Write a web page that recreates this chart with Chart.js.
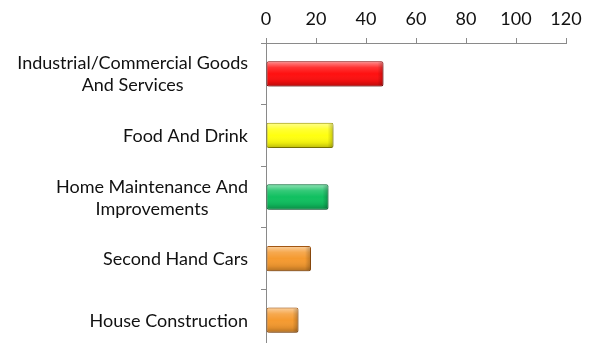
<!DOCTYPE html>
<html>
<head>
<meta charset="utf-8">
<script src="https://cdn.jsdelivr.net/npm/chart.js@4"></script>
<style>
  html, body { margin: 0; padding: 0; background: #fff; overflow: hidden; }
  #wrap { width: 590px; height: 351px; }
</style>
</head>
<body>
<div id="wrap"><canvas id="chart"></canvas></div>
<script>
// Categories, top to bottom
const categories = [
  ['Industrial/Commercial Goods', 'And Services'],
  'Food And Drink',
  ['Home Maintenance And', 'Improvements'],
  'Second Hand Cars',
  'House Construction'
];
const values = [47, 27, 25, 18, 13];
const xTicks = [0, 20, 40, 60, 80, 100, 120];

const fills   = ['#ff1010', '#ffff10', '#10c060', '#f59a30', '#f59a30'];
const borders = ['#900000', '#a09800', '#087038', '#a85810', '#a85810'];

const FONT_SIZE = 18;
const AXIS = '#8a8a8a';

// soft drop shadow under the bars
const shadow = {
  id: 'shadow',
  beforeDatasetsDraw(chart) {
    const ctx = chart.ctx;
    ctx.save();
    ctx.shadowColor = 'rgba(0,0,0,0.35)';
    ctx.shadowBlur = 4;
    ctx.shadowOffsetX = 1;
    ctx.shadowOffsetY = 2;
  },
  afterDatasetsDraw(chart) {
    chart.ctx.restore();
  }
};

// glossy bevel on top of each bar
const bevel = {
  id: 'bevel',
  afterDatasetsDraw(chart) {
    const ctx = chart.ctx;
    chart.getDatasetMeta(0).data.forEach(bar => {
      const p = bar.getProps(['x', 'y', 'base', 'height'], true);
      const top = p.y - p.height / 2, bot = p.y + p.height / 2;
      const left = Math.min(p.base, p.x) + 1, right = Math.max(p.base, p.x) - 1;
      const g = ctx.createLinearGradient(0, top, 0, bot);
      g.addColorStop(0, 'rgba(255,255,255,0.55)');
      g.addColorStop(0.25, 'rgba(255,255,255,0.15)');
      g.addColorStop(0.5, 'rgba(255,255,255,0)');
      g.addColorStop(0.8, 'rgba(0,0,0,0.08)');
      g.addColorStop(1, 'rgba(0,0,0,0.28)');
      ctx.save();
      ctx.fillStyle = g;
      ctx.fillRect(left, top + 1, right - left, bot - top - 2);
      // side shading
      const s = ctx.createLinearGradient(right - 5, 0, right, 0);
      s.addColorStop(0, 'rgba(0,0,0,0)');
      s.addColorStop(1, 'rgba(0,0,0,0.2)');
      ctx.fillStyle = s;
      ctx.fillRect(right - 5, top + 1, 5, bot - top - 2);
      ctx.restore();
    });
  }
};

// category labels: lines centred on each other, block right-aligned
const yLabels = {
  id: 'yLabels',
  afterDraw(chart) {
    const ctx = chart.ctx;
    const sc = chart.scales.y;
    ctx.save();
    ctx.font = FONT_SIZE + 'px Lato';
    ctx.fillStyle = '#111';
    ctx.textAlign = 'center';
    ctx.textBaseline = 'alphabetic';
    const cap = ctx.measureText('H').actualBoundingBoxAscent;
    const lh = 22;
    const rightEdge = sc.right - 5 - 13;
    categories.forEach((lab, i) => {
      const lines = [].concat(lab);
      const w = Math.max(...lines.map(l => ctx.measureText(l).width));
      const cx = rightEdge - w / 2;
      const cy = sc.getPixelForTick(i);
      lines.forEach((l, k) => {
        ctx.fillText(l, cx, cy + cap / 2 + (k - (lines.length - 1) / 2) * lh);
      });
    });
    ctx.restore();
  }
};

new Chart(document.getElementById('chart'), {
  type: 'bar',
  data: {
    labels: categories,
    datasets: [{
      data: values,
      backgroundColor: fills,
      borderColor: borders,
      borderWidth: 1,
      borderRadius: 2,
      borderSkipped: false,
      barPercentage: 0.41,
      categoryPercentage: 1
    }]
  },
  options: {
    indexAxis: 'y',
    responsive: true,
    maintainAspectRatio: false,
    animation: false,
    layout: { padding: { left: 0, right: 24, top: 0, bottom: 0 } },
    plugins: { legend: { display: false }, tooltip: { enabled: false } },
    scales: {
      x: {
        position: 'top',
        min: 0,
        max: 120,
        afterBuildTicks: s => { s.ticks = xTicks.map(v => ({ value: v })); },
        afterFit: s => { s.height = 43; s.paddingLeft = 0; s.paddingRight = 0; },
        ticks: { font: { family: 'Lato', size: FONT_SIZE }, color: '#111', padding: 8 },
        grid: { drawOnChartArea: false, tickLength: 5, color: AXIS },
        border: { color: AXIS }
      },
      y: {
        afterFit: s => { s.width = 266; s.paddingTop = 0; s.paddingBottom = 0; },
        ticks: { font: { family: 'Lato', size: FONT_SIZE }, color: 'rgba(0,0,0,0)' },
        grid: { drawOnChartArea: false, tickLength: 5, color: AXIS, offset: true },
        border: { color: AXIS }
      }
    }
  },
  plugins: [shadow, bevel, yLabels]
});
</script>
</body>
</html>
